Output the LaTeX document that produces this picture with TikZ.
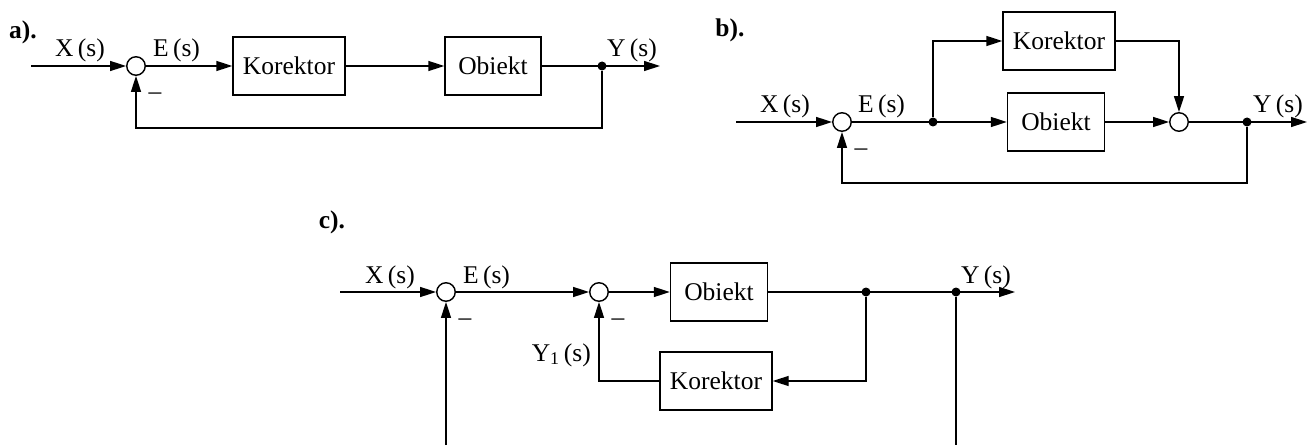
\documentclass[tikz,border=0pt]{standalone}
\usepackage{fontspec}
\setmainfont{Liberation Serif}
\usetikzlibrary{arrows.meta}
\tikzset{
  txt/.style={font=\fontsize{25.5}{30}\selectfont, inner sep=0pt},
  blk/.style={draw, txt, line width=1.4pt, minimum height=58pt},
  junc/.style={draw, circle, line width=1.4pt, inner sep=0pt, minimum size=18.5pt},
  dot/.style={circle, fill, inner sep=0pt, minimum size=9pt},
  sig/.style={line width=1.4pt, -{Triangle[length=16pt,width=10pt]}},
  wire/.style={line width=1.4pt}
}
\begin{document}
\begin{tikzpicture}[x=1pt, y=1pt]
    \useasboundingbox (0,0) rectangle (1316,445);

    % a) single loop
    \node[txt, font=\fontsize{25.5}{30}\selectfont\bfseries] (la) at (23,413) {a).};
    \coordinate (ina) at (31,379);
    \node[junc] (sa) at (136,379) {};
    \node[blk, minimum width=112pt] (ka) at (289,379) {Korektor};
    \node[blk, minimum width=96pt] (oa) at (493,379) {Obiekt};
    \node[dot] (da) at (602,379) {};
    \coordinate (outa) at (660,379);
    \coordinate (fa) at (602,317);
    \node[txt, anchor=base west] (xa) at (55,388) {X\,(s)};
    \node[txt, anchor=base west] (ea) at (153,388) {E\,(s)};
    \node[txt, anchor=base west] (ya) at (607,388) {Y\,(s)};
    \node[txt] (ma) at (155,349) {--};

    \draw[sig] (ina) -- (sa);
    \draw[sig] (sa) -- (ka);
    \draw[sig] (ka) -- (oa);
    \draw[sig] (oa) -- (outa);
    \draw[sig] (da) -- (fa) -| (sa);

    % b) corrector in parallel
    \node[txt, font=\fontsize{25.5}{30}\selectfont\bfseries] (lb) at (730,415) {b).};
    \coordinate (inb) at (736,323);
    \node[junc] (sb1) at (842,323) {};
    \node[dot] (db1) at (933,323) {};
    \node[blk, minimum width=112pt] (kb) at (1059,404) {Korektor};
    \node[blk, minimum width=97pt] (ob) at (1056,323) {Obiekt};
    \node[junc] (sb2) at (1179,323) {};
    \node[dot] (db2) at (1247,323) {};
    \coordinate (outb) at (1307,323);
    \coordinate (fb) at (1247,262);
    \node[txt, anchor=base west] (xb) at (760,332) {X\,(s)};
    \node[txt, anchor=base west] (eb) at (858,332) {E\,(s)};
    \node[txt, anchor=base west] (yb) at (1253,332) {Y\,(s)};
    \node[txt] (mb) at (861,293) {--};

    \draw[sig] (inb) -- (sb1);
    \draw[sig] (sb1) -- (ob);
    \draw[sig] (db1) |- (kb);
    \draw[sig] (ob) -- (sb2);
    \draw[sig] (kb) -| (sb2);
    \draw[sig] (sb2) -- (outb);
    \draw[sig] (db2) -- (fb) -| (sb1);

    % c) corrector in inner feedback
    \node[txt, font=\fontsize{25.5}{30}\selectfont\bfseries] (lc) at (332,223) {c).};
    \coordinate (inc) at (340,153);
    \node[junc] (sc1) at (446,153) {};
    \node[junc] (sc2) at (599,153) {};
    \node[blk, minimum width=97pt] (oc) at (719,153) {Obiekt};
    \node[dot] (dc1) at (866,153) {};
    \node[dot] (dc2) at (956,153) {};
    \coordinate (outc) at (1015,153);
    \node[blk, minimum width=112pt] (kc) at (716,64) {Korektor};
    \coordinate (bc1) at (446,0);
    \coordinate (bc2) at (956,0);
    \node[txt, anchor=base west] (xc) at (365,162) {X\,(s)};
    \node[txt, anchor=base west] (ec) at (463,162) {E\,(s)};
    \node[txt, anchor=base west] (yc) at (961,162) {Y\,(s)};
    \node[txt, anchor=base east] (y1c) at (591,84) {Y\textsubscript{1}\,(s)};
    \node[txt] (mc1) at (465,123) {--};
    \node[txt] (mc2) at (618,123) {--};

    \draw[sig] (inc) -- (sc1);
    \draw[sig] (sc1) -- (sc2);
    \draw[sig] (sc2) -- (oc);
    \draw[sig] (oc) -- (outc);
    \draw[sig] (dc1) |- (kc);
    \draw[sig] (kc) -| (sc2);
    \draw[sig] (bc1) -- (sc1);
    \draw[wire] (dc2) -- (bc2);
\end{tikzpicture}
\end{document}
